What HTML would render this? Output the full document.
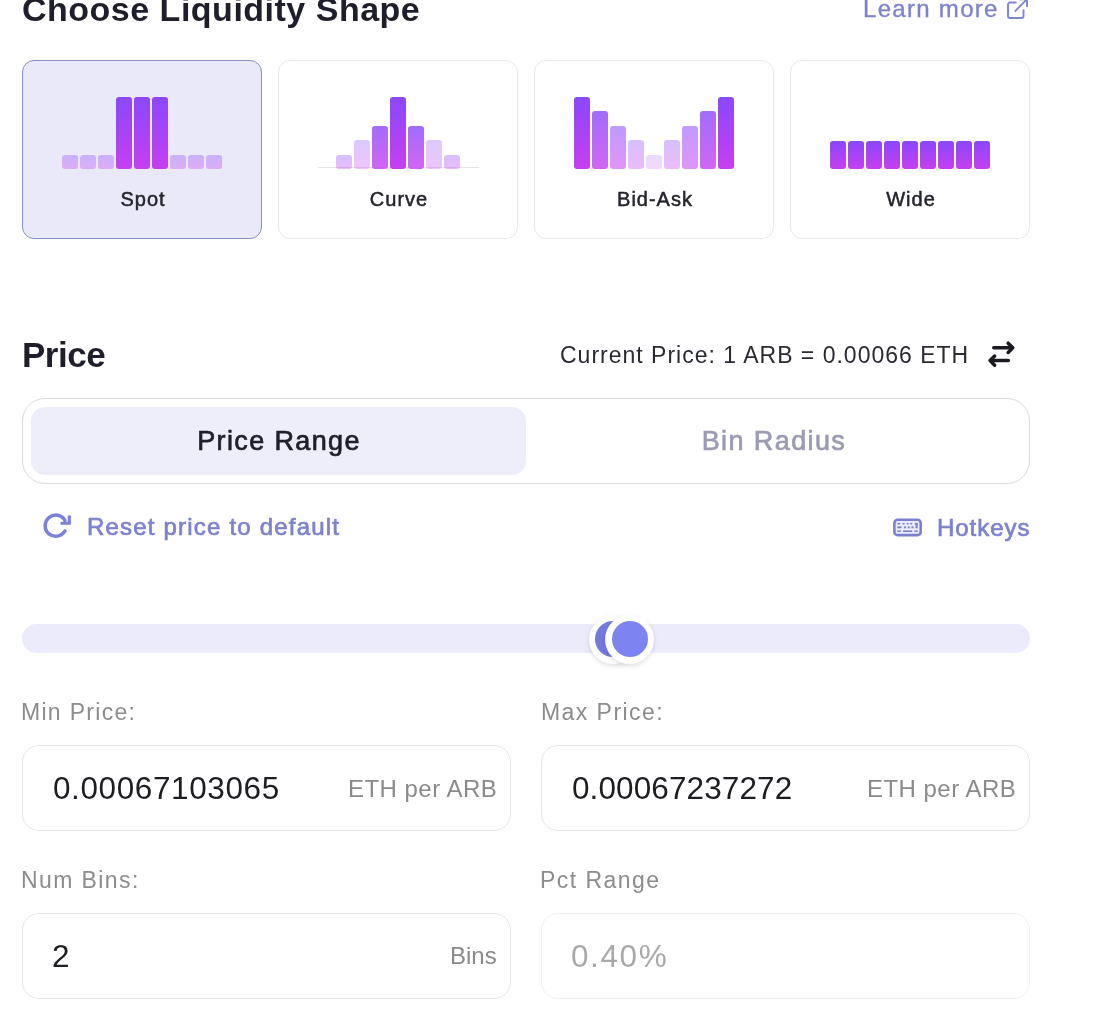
<!DOCTYPE html>
<html><head><meta charset="utf-8"><style>
html,body{margin:0;padding:0;background:#fff;}
body{width:1093px;height:1011px;position:relative;overflow:hidden;font-family:"Liberation Sans",Arial,sans-serif;}
.t{position:absolute;line-height:1;white-space:nowrap;will-change:transform;}
.card{position:absolute;top:59.5px;width:240.3px;height:179px;box-sizing:border-box;border:1.6px solid #e9e9ec;border-radius:12px;background:#fff;}
.card.sel{background:#e9e9fa;border-color:#8b90c4;border-width:1.8px;}
.bar{position:absolute;width:16px;border-radius:3px;background:linear-gradient(180deg,#8a48fb 0%,#c63ff0 100%);}
.box{position:absolute;box-sizing:border-box;border:1.7px solid #e7e7ea;border-radius:17px;background:#fff;}
.med{-webkit-text-stroke:0.7px currentColor;}
</style></head><body>
<div class="t" style="left:22px;top:-7.78px;font-size:34px;color:#1e1f2a;font-weight:700;letter-spacing:0.5px;">Choose Liquidity Shape</div>
<div class="t" style="left:863px;top:-2.62px;font-size:24px;color:#7d82cc;font-weight:400;letter-spacing:1.3px;-webkit-text-stroke:0.35px #7d82cc;">Learn more</div>
<svg style="position:absolute;left:1006px;top:-1px" width="24" height="21" viewBox="0 0 24 21" fill="none" stroke="#7e84d4" stroke-width="1.9" stroke-linecap="round" stroke-linejoin="round">
<path d="M9.8 3.5H4a2 2 0 0 0-2 2V17a2 2 0 0 0 2 2h11.5a2 2 0 0 0 2-2v-5.7"/><path d="M14 0.2h7v7"/><path d="M21 0.2L9.4 11.9"/></svg>
<div class="card sel" style="left:22px"></div>
<div class="card" style="left:278px"></div>
<div class="card" style="left:534px"></div>
<div class="card" style="left:790px"></div>
<div class="bar" style="left:62.00px;top:154.50px;height:14px;opacity:0.35"></div>
<div class="bar" style="left:80.00px;top:154.50px;height:14px;opacity:0.35"></div>
<div class="bar" style="left:98.00px;top:154.50px;height:14px;opacity:0.35"></div>
<div class="bar" style="left:116.00px;top:96.50px;height:72px;opacity:1"></div>
<div class="bar" style="left:134.00px;top:96.50px;height:72px;opacity:1"></div>
<div class="bar" style="left:152.00px;top:96.50px;height:72px;opacity:1"></div>
<div class="bar" style="left:170.00px;top:154.50px;height:14px;opacity:0.35"></div>
<div class="bar" style="left:188.00px;top:154.50px;height:14px;opacity:0.35"></div>
<div class="bar" style="left:206.00px;top:154.50px;height:14px;opacity:0.35"></div>
<div style="position:absolute;left:318px;top:167px;width:161px;height:1.3px;background:#e4e4e8"></div>
<div class="bar" style="left:336.00px;top:154.50px;height:14px;opacity:0.35"></div>
<div class="bar" style="left:354.00px;top:140.00px;height:28.5px;opacity:0.3"></div>
<div class="bar" style="left:372.00px;top:125.50px;height:43px;opacity:0.8"></div>
<div class="bar" style="left:390.00px;top:96.50px;height:72px;opacity:1"></div>
<div class="bar" style="left:408.00px;top:125.50px;height:43px;opacity:0.8"></div>
<div class="bar" style="left:426.00px;top:140.00px;height:28.5px;opacity:0.3"></div>
<div class="bar" style="left:444.00px;top:154.50px;height:14px;opacity:0.35"></div>
<div class="bar" style="left:574.00px;top:96.50px;height:72px;opacity:1"></div>
<div class="bar" style="left:592.00px;top:111.00px;height:57.5px;opacity:0.8"></div>
<div class="bar" style="left:610.00px;top:125.50px;height:43px;opacity:0.55"></div>
<div class="bar" style="left:628.00px;top:140.00px;height:28.5px;opacity:0.35"></div>
<div class="bar" style="left:646.00px;top:154.50px;height:14px;opacity:0.2"></div>
<div class="bar" style="left:664.00px;top:140.00px;height:28.5px;opacity:0.35"></div>
<div class="bar" style="left:682.00px;top:125.50px;height:43px;opacity:0.55"></div>
<div class="bar" style="left:700.00px;top:111.00px;height:57.5px;opacity:0.8"></div>
<div class="bar" style="left:718.00px;top:96.50px;height:72px;opacity:1"></div>
<div class="bar" style="left:829.50px;top:140.50px;height:28px;opacity:1"></div>
<div class="bar" style="left:847.50px;top:140.50px;height:28px;opacity:1"></div>
<div class="bar" style="left:865.50px;top:140.50px;height:28px;opacity:1"></div>
<div class="bar" style="left:883.50px;top:140.50px;height:28px;opacity:1"></div>
<div class="bar" style="left:901.50px;top:140.50px;height:28px;opacity:1"></div>
<div class="bar" style="left:919.50px;top:140.50px;height:28px;opacity:1"></div>
<div class="bar" style="left:937.50px;top:140.50px;height:28px;opacity:1"></div>
<div class="bar" style="left:955.50px;top:140.50px;height:28px;opacity:1"></div>
<div class="bar" style="left:973.50px;top:140.50px;height:28px;opacity:1"></div>
<div class="t" style="left:-157.50px;width:600px;text-align:center;top:189.07px;font-size:20px;color:#24242c;font-weight:400;letter-spacing:1.0px;-webkit-text-stroke:0.5px #24242c;">Spot</div>
<div class="t" style="left:98.50px;width:600px;text-align:center;top:189.07px;font-size:20px;color:#24242c;font-weight:400;letter-spacing:1.0px;-webkit-text-stroke:0.5px #24242c;">Curve</div>
<div class="t" style="left:354.50px;width:600px;text-align:center;top:189.07px;font-size:20px;color:#24242c;font-weight:400;letter-spacing:1.0px;-webkit-text-stroke:0.5px #24242c;">Bid-Ask</div>
<div class="t" style="left:610.50px;width:600px;text-align:center;top:189.07px;font-size:20px;color:#24242c;font-weight:400;letter-spacing:1.0px;-webkit-text-stroke:0.5px #24242c;">Wide</div>
<div class="t" style="left:22px;top:337.07px;font-size:35px;color:#1e1f2a;font-weight:700;letter-spacing:-0.5px;">Price</div>
<div class="t" style="right:124.00px;top:343.53px;font-size:23px;color:#2a2a33;font-weight:400;text-align:right;letter-spacing:1.0px;">Current Price: 1 ARB = 0.00066 ETH</div>
<svg style="position:absolute;left:984px;top:337px" width="34" height="34" viewBox="0 0 34 34" fill="none" stroke="#1c1c20" stroke-width="3.5" stroke-linecap="round" stroke-linejoin="round">
<path d="M24.15 6.2L28.75 10.8L24.15 15.4"/><path d="M9.75 10.8H28"/><path d="M10.65 19L6.05 23.6L10.65 28.2"/><path d="M7 23.6H24.35"/></svg>
<div class="box" style="left:22px;top:397.5px;width:1008px;height:86px;border-radius:23px;border-color:#dadae0"></div>
<div style="position:absolute;left:31px;top:406.5px;width:495px;height:68px;border-radius:14px;background:#eeeefb"></div>
<div class="t med" style="left:-20.82px;width:600px;text-align:center;top:427.64px;font-size:27px;color:#1f1f2b;font-weight:400;letter-spacing:1.37px;">Price Range</div>
<div class="t med" style="left:474.20px;width:600px;text-align:center;top:427.94px;font-size:27px;color:#9b9bb3;font-weight:400;letter-spacing:1.4px;">Bin Radius</div>
<svg style="position:absolute;left:41px;top:511px" width="32" height="30" viewBox="0 0 32 30" fill="none" stroke="#7b80d8" stroke-width="3.5" stroke-linecap="round" stroke-linejoin="round">
<path d="M23.96 19.98A10.6 10.6 0 1 1 24 9.5"/><path d="M28.3 4.6V12.3H19.6" stroke-linecap="butt" stroke-linejoin="miter" stroke-width="3.1"/></svg>
<div class="t med" style="left:86.5px;top:515.08px;font-size:24px;color:#7d82cc;font-weight:400;letter-spacing:1.2px;">Reset price to default</div>
<svg style="position:absolute;left:892px;top:516.5px" width="31" height="21" viewBox="0 0 31 21" fill="none">
<rect x="2.4" y="2.8" width="26.3" height="15.3" rx="3.2" fill="#ececff" stroke="#7b80d0" stroke-width="2.6"/>
<g fill="#7b80d0"><rect x="5.4" y="5.9" width="2.8" height="1.6"/><rect x="10.6" y="5.9" width="1.9" height="1.6"/><rect x="14.7" y="5.9" width="1.9" height="1.6"/><rect x="18.3" y="5.9" width="1.9" height="1.6"/><rect x="22.7" y="5.9" width="3.3" height="1.6"/>
<rect x="5.4" y="9.4" width="4.1" height="1.9"/><rect x="12" y="9.4" width="1.9" height="1.9"/><rect x="15.8" y="9.4" width="1.9" height="1.9"/><rect x="19.4" y="9.4" width="2.2" height="1.9"/><rect x="23.5" y="7" width="2.2" height="4.3"/>
<rect x="5.4" y="13.4" width="3.4" height="1.6"/><rect x="11" y="13.4" width="9.2" height="1.6"/><rect x="22.4" y="13.4" width="3.3" height="1.6"/></g></svg>
<div class="t med" style="right:62.55px;top:515.68px;font-size:24px;color:#7d82cc;font-weight:400;text-align:right;letter-spacing:0.95px;">Hotkeys</div>
<div style="position:absolute;left:22px;top:624.2px;width:1008px;height:29px;border-radius:15px;background:#ebebfb"></div>
<div style="position:absolute;left:588.50px;top:615.0px;width:49px;height:49px;border-radius:50%;background:#fff;box-shadow:0 2px 5px rgba(0,0,0,0.12)"></div>
<div style="position:absolute;left:595.00px;top:620.7px;width:36px;height:36px;border-radius:50%;background:#7479e0"></div>
<div style="position:absolute;left:605.30px;top:615.0px;width:49px;height:49px;border-radius:50%;background:#fff;box-shadow:0 2px 5px rgba(0,0,0,0.12)"></div>
<div style="position:absolute;left:611.80px;top:620.7px;width:36px;height:36px;border-radius:50%;background:#7d84f2"></div>
<div class="t" style="left:21.2px;top:701.03px;font-size:23px;color:#8c8c8f;font-weight:400;letter-spacing:1.3px;">Min Price:</div>
<div class="t" style="left:540.5px;top:701.03px;font-size:23px;color:#8c8c8f;font-weight:400;letter-spacing:1.44px;">Max Price:</div>
<div class="box" style="left:22px;top:745px;width:489px;height:85.5px"></div>
<div class="box" style="left:541px;top:745px;width:489px;height:85.5px"></div>
<div class="t" style="left:52.8px;top:773.34px;font-size:31.5px;color:#1d1d22;font-weight:400;letter-spacing:0.6px;">0.00067103065</div>
<div class="t" style="left:571.8px;top:773.34px;font-size:31.5px;color:#1d1d22;font-weight:400;letter-spacing:0.1px;">0.00067237272</div>
<div class="t" style="right:596.03px;top:776.88px;font-size:24px;color:#8a8a8d;font-weight:400;text-align:right;letter-spacing:0.47px;">ETH per ARB</div>
<div class="t" style="right:77.03px;top:776.88px;font-size:24px;color:#8a8a8d;font-weight:400;text-align:right;letter-spacing:0.47px;">ETH per ARB</div>
<div class="t" style="left:21.2px;top:868.53px;font-size:23px;color:#8c8c8f;font-weight:400;letter-spacing:1.4px;">Num Bins:</div>
<div class="t" style="left:540px;top:868.53px;font-size:23px;color:#8c8c8f;font-weight:400;letter-spacing:1.47px;">Pct Range</div>
<div class="box" style="left:22px;top:912.5px;width:489px;height:86px"></div>
<div class="box" style="left:541px;top:912.5px;width:489px;height:86px;border-color:#f1f1f3;background:#fff"></div>
<div class="t" style="left:52px;top:941.34px;font-size:31.5px;color:#1d1d22;font-weight:400;">2</div>
<div class="t" style="right:596.50px;top:944.18px;font-size:24px;color:#8a8a8d;font-weight:400;text-align:right;">Bins</div>
<div class="t" style="left:571px;top:941.14px;font-size:31.5px;color:#a9a9ac;font-weight:400;letter-spacing:1.6px;">0.40%</div>
</body></html>
